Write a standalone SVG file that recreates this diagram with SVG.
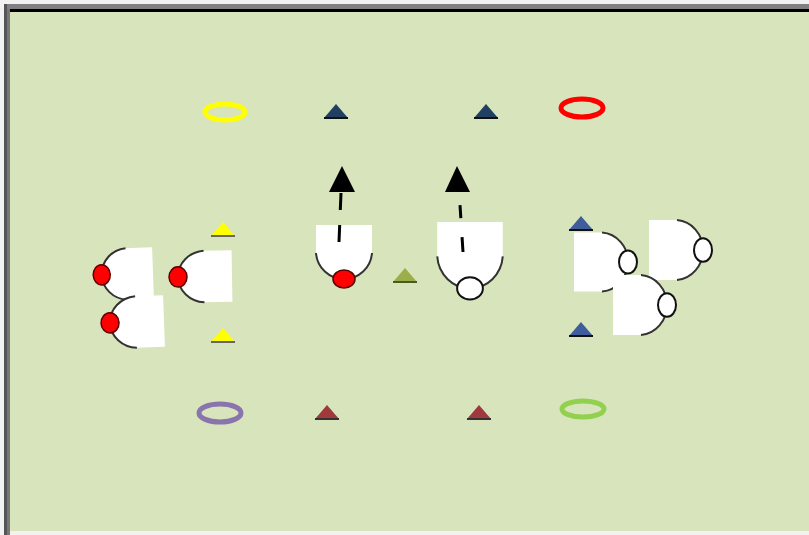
<svg xmlns="http://www.w3.org/2000/svg" xmlns:xlink="http://www.w3.org/1999/xlink" width="809" height="535" viewBox="0 0 809 535">
<style>
.body{fill:#ffffff;stroke:none}
.outline{fill:none;stroke:#333;stroke-width:2}
.headR{fill:#ff0000;stroke:#5a0000;stroke-width:1.5}
.headW{fill:#ffffff;stroke:#111;stroke-width:2}
.ring{fill:none;stroke-width:5}
.dash{stroke:#000;stroke-width:3;fill:none}
.coneBase{stroke:#111;stroke-width:2}
</style>
<defs>
<g id="pbody">
<path class="body" d="M-28,0 H28 V30 A28,26 0 0 1 0,54 A28,26 0 0 1 -28,30 Z"/>
<path class="outline" vector-effect="non-scaling-stroke" d="M28,28 A28,28 0 0 1 0,54 A28,28 0 0 1 -28,28"/>
</g>
<g id="pred"><use xlink:href="#pbody"/><ellipse class="headR" vector-effect="non-scaling-stroke" cx="0" cy="54" rx="11" ry="9"/></g>
<g id="pwhite"><use xlink:href="#pbody"/><ellipse class="headW" vector-effect="non-scaling-stroke" cx="0" cy="54" rx="11" ry="9"/></g>
<path id="cone" d="M-12,0 L0,-14 L12,0 Z"/>
</defs>
<rect x="0" y="0" width="809" height="535" fill="#f2f2f2"/>
<rect x="10" y="12" width="799" height="519" fill="#d8e4bc"/>
<rect x="4" y="4" width="805" height="6" fill="#808080"/>
<rect x="8" y="9" width="801" height="3" fill="#000"/>
<rect x="4" y="4" width="3" height="531" fill="#555"/>
<rect x="7" y="9" width="3" height="526" fill="#777"/>

<g id="rings">
<ellipse class="ring" cx="225" cy="112" rx="20" ry="8" stroke="#ffff00"/>
<ellipse class="ring" cx="582" cy="108" rx="21" ry="9" stroke="#ff0000"/>
<ellipse class="ring" cx="220" cy="413" rx="21" ry="9" stroke="#8a74ad"/>
<ellipse class="ring" cx="583" cy="409" rx="21" ry="8" stroke="#92d050"/>
</g>

<g id="cones">
<g id="cone-top-1" transform="translate(336,118)"><use xlink:href="#cone" fill="#213f60"/><line class="coneBase" x1="-12" y1="0" x2="12" y2="0"/></g>
<g id="cone-top-2" transform="translate(486,118)"><use xlink:href="#cone" fill="#213f60"/><line class="coneBase" x1="-12" y1="0" x2="12" y2="0"/></g>
<g id="cone-yel-1" transform="translate(223,236)"><use xlink:href="#cone" fill="#ffff00"/><line x1="-12" y1="0" x2="12" y2="0" stroke="#666" stroke-width="2"/></g>
<g id="cone-yel-2" transform="translate(223,342)"><use xlink:href="#cone" fill="#ffff00"/><line x1="-12" y1="0" x2="12" y2="0" stroke="#666" stroke-width="2"/></g>
<g id="cone-olive" transform="translate(405,282)"><use xlink:href="#cone" fill="#9bae4a"/><line x1="-12" y1="0" x2="12" y2="0" stroke="#4a5a20" stroke-width="2"/></g>
<g id="cone-blue-1" transform="translate(581,230)"><use xlink:href="#cone" fill="#3f5d9a"/><line class="coneBase" x1="-12" y1="0" x2="12" y2="0"/></g>
<g id="cone-blue-2" transform="translate(581,336)"><use xlink:href="#cone" fill="#3f5d9a"/><line class="coneBase" x1="-12" y1="0" x2="12" y2="0"/></g>
<g id="cone-bot-1" transform="translate(327,419)"><use xlink:href="#cone" fill="#a0393d"/><line x1="-12" y1="0" x2="12" y2="0" stroke="#333" stroke-width="2"/></g>
<g id="cone-bot-2" transform="translate(479,419)"><use xlink:href="#cone" fill="#a0393d"/><line x1="-12" y1="0" x2="12" y2="0" stroke="#333" stroke-width="2"/></g>
</g>

<g id="player-A" transform="translate(153,273) rotate(88) scale(0.92,0.95)"><use xlink:href="#pred"/></g>
<g id="player-B" transform="translate(164,321) rotate(88) scale(0.92,1)"><use xlink:href="#pred"/></g>
<g id="player-C" transform="translate(232,276) rotate(89) scale(0.92,1)"><use xlink:href="#pred"/></g>
<g id="player-D" transform="translate(344,225)"><use xlink:href="#pred"/></g>
<g id="player-E" transform="translate(470,222) scale(1.17,1.23)"><use xlink:href="#pwhite"/></g>
<g id="player-F" transform="translate(574,262) rotate(-90) scale(1.05,1)"><use xlink:href="#pwhite"/></g>
<g id="player-G" transform="translate(649,250) rotate(-90) scale(1.07,1)"><use xlink:href="#pwhite"/></g>
<g id="player-H" transform="translate(613,305) rotate(-90) scale(1.07,1)"><use xlink:href="#pwhite"/></g>

<g id="connectors">
<line class="dash" x1="339" y1="242" x2="341" y2="193" stroke-dasharray="17 15 17 50"/>
<polygon points="342,166 329,192 355,192" fill="#000"/>
<line class="dash" x1="463" y1="252" x2="460" y2="205" stroke-dasharray="15 19 13 50"/>
<polygon points="457,166 445,192 470,192" fill="#000"/>
</g>
</svg>
